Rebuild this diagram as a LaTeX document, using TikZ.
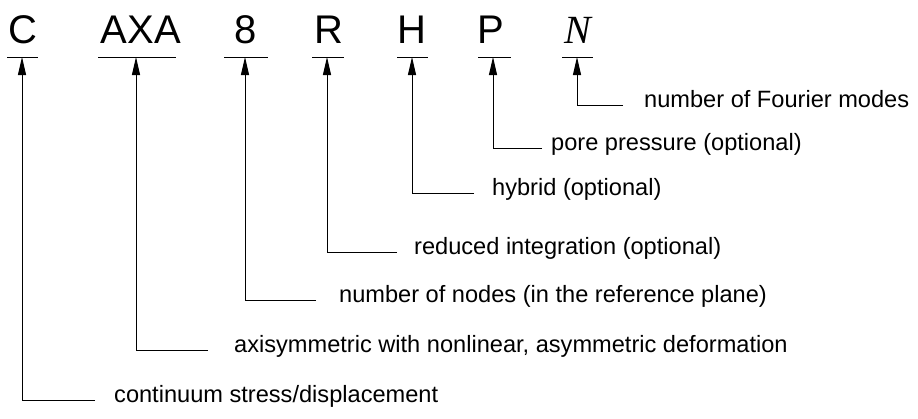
\documentclass[tikz,border=0pt]{standalone}
\usepackage{fontspec}
\setmainfont{Liberation Sans}
\newfontfamily\timesfam{Liberation Serif}
\usetikzlibrary{arrows.meta}
\tikzset{
  letter/.style={anchor=base, inner sep=0pt, font=\fontsize{40}{40}\selectfont},
  desc/.style={anchor=mid west, inner sep=0pt, font=\fontsize{23.6}{26}\selectfont},
  uline/.style={line width=1pt},
  conn/.style={line width=1pt, -{Triangle[length=18pt,width=8pt]}}
}
\begin{document}
\begin{tikzpicture}[x=1pt,y=1pt]
\useasboundingbox (0,0) rectangle (918,-418);
% letters
\node[letter] (lC) at (23,-43) {C};
\node[letter] (lAXA) at (141,-43) {AXA};
\node[letter] (l8) at (246,-43) {8};
\node[letter] (lR) at (329,-43) {R};
\node[letter] (lH) at (412,-43) {H};
\node[letter] (lP) at (491,-43) {P};
\node[letter] (lN) at (578,-43) {\timesfam\itshape N};
% underlines
\draw[uline] (7,-57) -- (38,-57);
\draw[uline] (98,-57) -- (176,-57);
\draw[uline] (224,-57) -- (268,-57);
\draw[uline] (312,-57) -- (344,-57);
\draw[uline] (397,-57) -- (428,-57);
\draw[uline] (478,-57) -- (511,-57);
\draw[uline] (562,-57) -- (593,-57);
% arrow tips
\coordinate (tC) at (22,-57);
\coordinate (tAXA) at (136,-57);
\coordinate (t8) at (245,-57);
\coordinate (tR) at (327,-57);
\coordinate (tH) at (412,-57);
\coordinate (tP) at (493,-57);
\coordinate (tN) at (577,-57);
% descriptions
\node[desc] (dC) at (114,-400) {continuum stress/displacement};
\node[desc] (dAXA) at (234,-350) {axisymmetric with nonlinear, asymmetric deformation};
\node[desc] (d8) at (339,-300) {number of nodes (in the reference plane)};
\node[desc] (dR) at (414,-252) {reduced integration (optional)};
\node[desc] (dH) at (492,-193) {hybrid (optional)};
\node[desc] (dP) at (551,-148) {pore pressure (optional)};
\node[desc] (dN) at (644,-105) {number of Fourier modes};
% line ends
\coordinate (eC) at (95,-400);
\coordinate (eAXA) at (208,-350);
\coordinate (e8) at (316,-300);
\coordinate (eR) at (397,-252);
\coordinate (eH) at (474,-193);
\coordinate (eP) at (542,-148);
\coordinate (eN) at (623,-105);
% connectors
\draw[conn] (eC) -| (tC);
\draw[conn] (eAXA) -| (tAXA);
\draw[conn] (e8) -| (t8);
\draw[conn] (eR) -| (tR);
\draw[conn] (eH) -| (tH);
\draw[conn] (eP) -| (tP);
\draw[conn] (eN) -| (tN);
\end{tikzpicture}
\end{document}
